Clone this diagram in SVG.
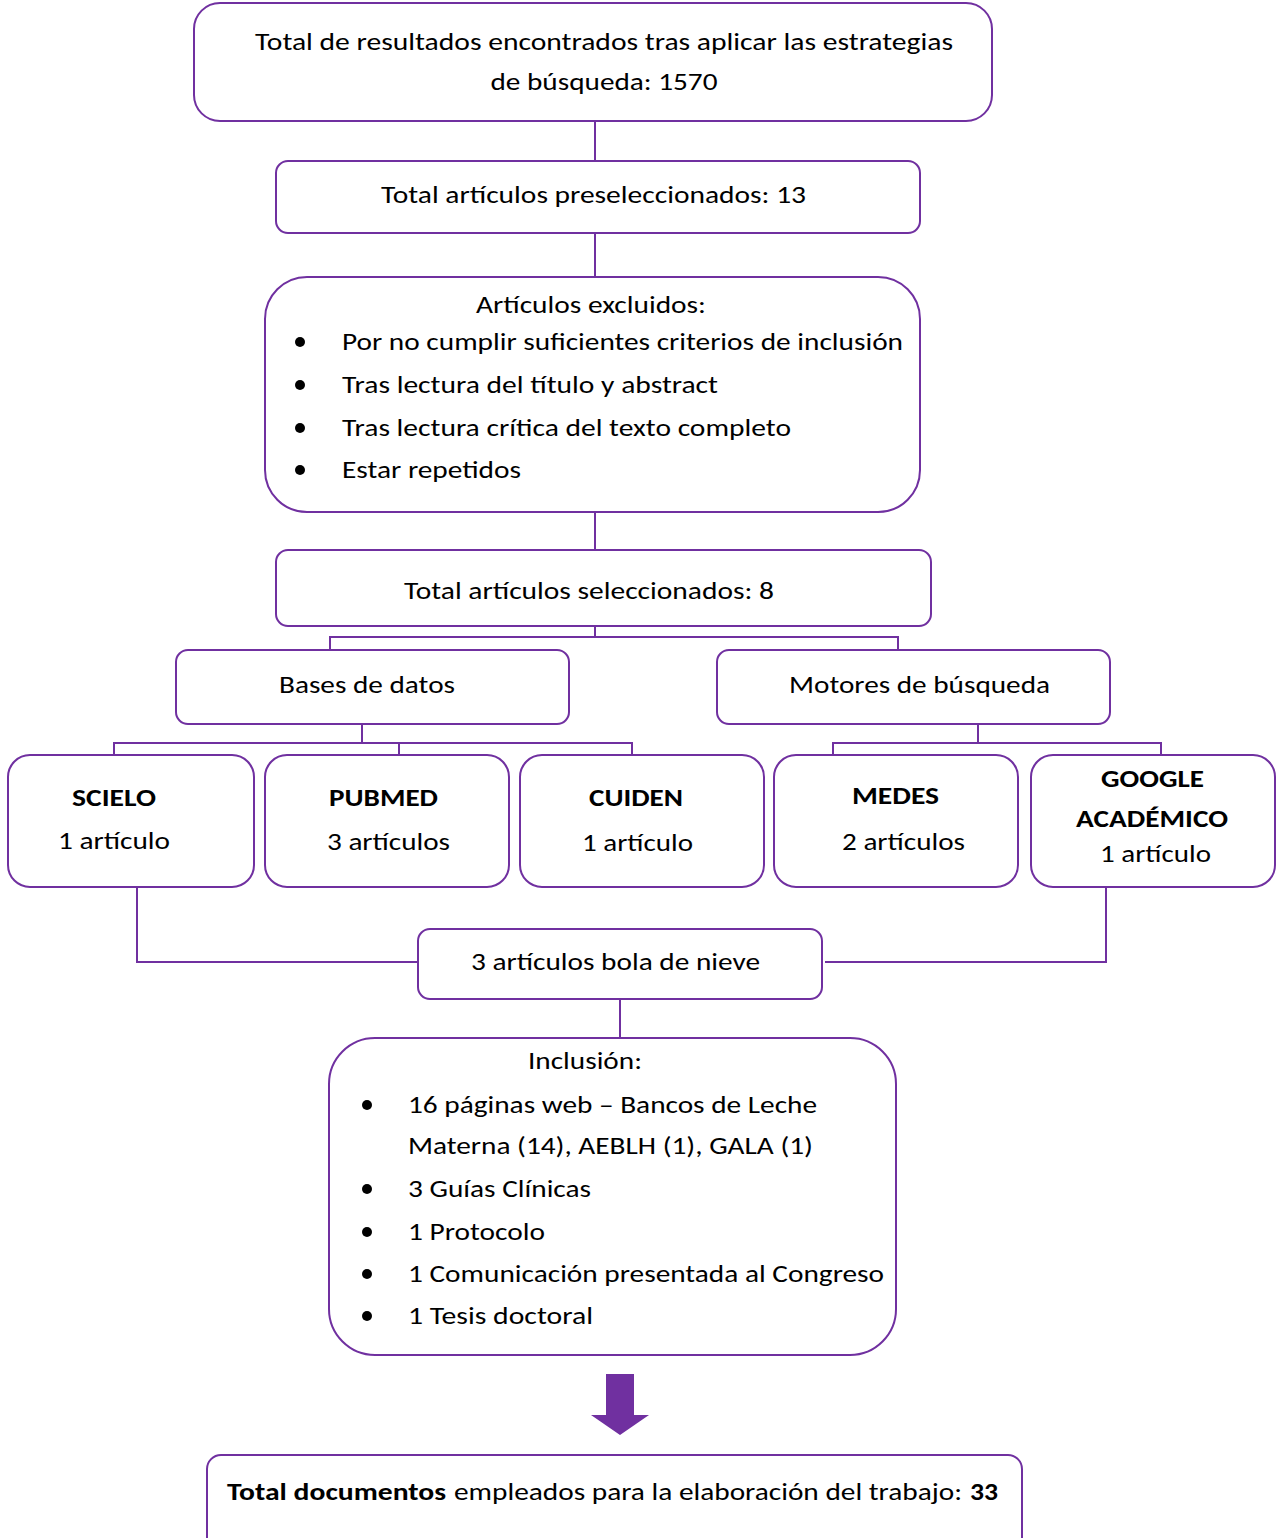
<svg xmlns="http://www.w3.org/2000/svg" width="1276" height="1538" viewBox="0 0 1276 1538">
<style>
.box{fill:#fff;stroke:#7030A0;stroke-width:2}
.con{fill:none;stroke:#7030A0;stroke-width:2}
text{font-family:Carlito,Lato,"Open Sans",sans-serif;font-size:25px;fill:#000}
.c{text-anchor:middle}
.b{font-weight:bold}
.dot{fill:#000}
</style>
<rect width="1276" height="1538" fill="#fff"/>
<g id="connectors">
<path class="con" d="M595 121V161M595 233V277M595 512V550"/>
<path class="con" d="M595 626V637M330 650V637H898V650"/>
<path class="con" d="M362 724V743M114 755V743H632V755M399 743V755"/>
<path class="con" d="M978 724V743M833 755V743H1161V755"/>
<path class="con" d="M137 887V962H418M1106 887V962H825"/>
<path class="con" d="M620 999V1038"/>
<path d="M606 1374H634V1415H649L620 1435L591 1415H606Z" fill="#7030A0"/>
</g>
<g id="n1">
<rect class="box" x="194" y="3" width="798" height="118" rx="26"/>
<text class="c" x="604" y="50" textLength="698" lengthAdjust="spacingAndGlyphs">Total de resultados encontrados tras aplicar las estrategias</text>
<text class="c" x="604" y="90" textLength="227" lengthAdjust="spacingAndGlyphs">de búsqueda: 1570</text>
</g>
<g id="n2">
<rect class="box" x="276" y="161" width="644" height="72" rx="12"/>
<text class="c" x="593.5" y="203" textLength="425" lengthAdjust="spacingAndGlyphs">Total artículos preseleccionados: 13</text>
</g>
<g id="n3">
<rect class="box" x="265" y="277" width="655" height="235" rx="42"/>
<text class="c" x="591" y="313" textLength="230" lengthAdjust="spacingAndGlyphs">Artículos excluidos:</text>
<circle class="dot" cx="300" cy="342" r="5"/>
<circle class="dot" cx="300" cy="385" r="5"/>
<circle class="dot" cx="300" cy="428" r="5"/>
<circle class="dot" cx="300" cy="470" r="5"/>
<text x="342" y="350" textLength="561" lengthAdjust="spacingAndGlyphs">Por no cumplir suficientes criterios de inclusión</text>
<text x="342" y="393" textLength="376" lengthAdjust="spacingAndGlyphs">Tras lectura del título y abstract</text>
<text x="342" y="436" textLength="449" lengthAdjust="spacingAndGlyphs">Tras lectura crítica del texto completo</text>
<text x="342" y="478" textLength="179" lengthAdjust="spacingAndGlyphs">Estar repetidos</text>
</g>
<g id="n4">
<rect class="box" x="276" y="550" width="655" height="76" rx="12"/>
<text class="c" x="589" y="599" textLength="370" lengthAdjust="spacingAndGlyphs">Total artículos seleccionados: 8</text>
</g>
<g id="n5">
<rect class="box" x="176" y="650" width="393" height="74" rx="12"/>
<text class="c" x="367" y="693" textLength="176" lengthAdjust="spacingAndGlyphs">Bases de datos</text>
</g>
<g id="n6">
<rect class="box" x="717" y="650" width="393" height="74" rx="12"/>
<text class="c" x="919.5" y="693" textLength="261" lengthAdjust="spacingAndGlyphs">Motores de búsqueda</text>
</g>
<g id="scielo">
<rect class="box" x="8" y="755" width="246" height="132" rx="22"/>
<text class="c b" x="114" y="806" textLength="84" lengthAdjust="spacingAndGlyphs">SCIELO</text>
<text class="c" x="114" y="849" textLength="112" lengthAdjust="spacingAndGlyphs">1 artículo</text>
</g>
<g id="pubmed">
<rect class="box" x="265" y="755" width="244" height="132" rx="22"/>
<text class="c b" x="383.5" y="806" textLength="109" lengthAdjust="spacingAndGlyphs">PUBMED</text>
<text class="c" x="388.5" y="850" textLength="123" lengthAdjust="spacingAndGlyphs">3 artículos</text>
</g>
<g id="cuiden">
<rect class="box" x="520" y="755" width="244" height="132" rx="22"/>
<text class="c b" x="636" y="806" textLength="94" lengthAdjust="spacingAndGlyphs">CUIDEN</text>
<text class="c" x="637.5" y="851" textLength="111" lengthAdjust="spacingAndGlyphs">1 artículo</text>
</g>
<g id="medes">
<rect class="box" x="774" y="755" width="244" height="132" rx="22"/>
<text class="c b" x="895.5" y="804" textLength="87" lengthAdjust="spacingAndGlyphs">MEDES</text>
<text class="c" x="903.5" y="850" textLength="123" lengthAdjust="spacingAndGlyphs">2 artículos</text>
</g>
<g id="google">
<rect class="box" x="1031" y="755" width="244" height="132" rx="22"/>
<text class="c b" x="1152.5" y="787" textLength="103" lengthAdjust="spacingAndGlyphs">GOOGLE</text>
<text class="c b" x="1152" y="827" textLength="152" lengthAdjust="spacingAndGlyphs">ACADÉMICO</text>
<text class="c" x="1155.5" y="862" textLength="111" lengthAdjust="spacingAndGlyphs">1 artículo</text>
</g>
<g id="bola">
<rect class="box" x="418" y="929" width="404" height="70" rx="12"/>
<text class="c" x="615.5" y="970" textLength="289" lengthAdjust="spacingAndGlyphs">3 artículos bola de nieve</text>
</g>
<g id="inclusion">
<rect class="box" x="329" y="1038" width="567" height="317" rx="46"/>
<text class="c" x="585" y="1069" textLength="114" lengthAdjust="spacingAndGlyphs">Inclusión:</text>
<circle class="dot" cx="367" cy="1105" r="5"/>
<circle class="dot" cx="367" cy="1189" r="5"/>
<circle class="dot" cx="367" cy="1232" r="5"/>
<circle class="dot" cx="367" cy="1274" r="5"/>
<circle class="dot" cx="367" cy="1316" r="5"/>
<text x="408" y="1113" textLength="409" lengthAdjust="spacingAndGlyphs">16 páginas web – Bancos de Leche</text>
<text x="408" y="1154" textLength="405" lengthAdjust="spacingAndGlyphs">Materna (14), AEBLH (1), GALA (1)</text>
<text x="408" y="1197" textLength="183" lengthAdjust="spacingAndGlyphs">3 Guías Clínicas</text>
<text x="408" y="1240" textLength="137" lengthAdjust="spacingAndGlyphs">1 Protocolo</text>
<text x="408" y="1282" textLength="476" lengthAdjust="spacingAndGlyphs">1 Comunicación presentada al Congreso</text>
<text x="408" y="1324" textLength="185" lengthAdjust="spacingAndGlyphs">1 Tesis doctoral</text>
</g>
<g id="total">
<rect class="box" x="207" y="1455" width="815" height="110" rx="14"/>
<text y="1500"><tspan class="b" x="227" textLength="219" lengthAdjust="spacingAndGlyphs">Total documentos</tspan><tspan x="454" textLength="508" lengthAdjust="spacingAndGlyphs">empleados para la elaboración del trabajo:</tspan><tspan class="b" x="970" textLength="28" lengthAdjust="spacingAndGlyphs">33</tspan></text>
</g>
</svg>
